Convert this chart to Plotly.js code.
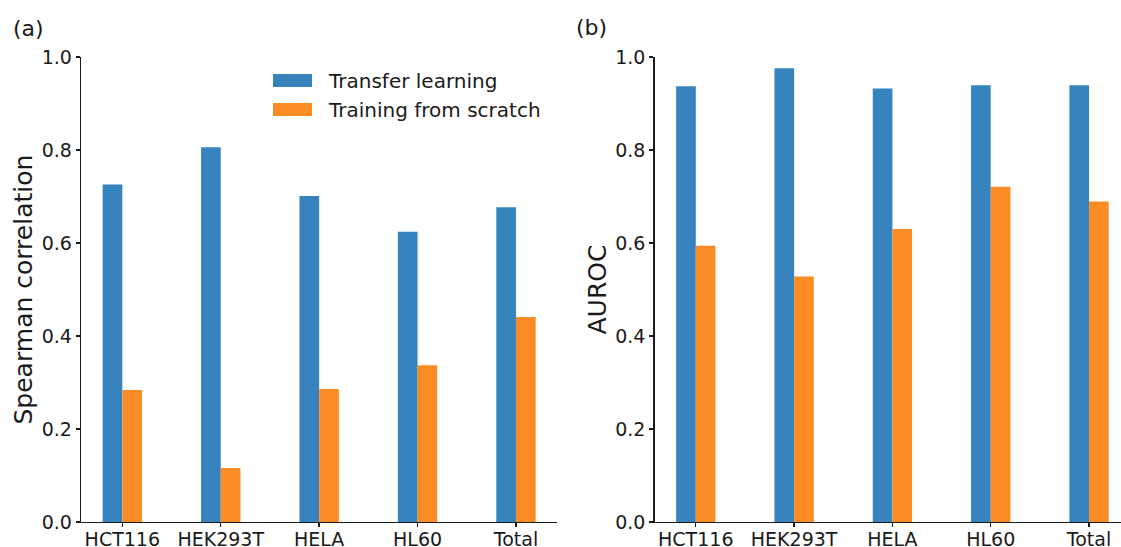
<!DOCTYPE html>
<html>
<head>
<meta charset="utf-8">
<script src="https://cdn.plot.ly/plotly-3.0.1.min.js"></script>
<style>
  html, body { margin: 0; padding: 0; background: #ffffff; }
  #chart { width: 1121px; height: 547px; }
</style>
</head>
<body>
<div id="chart"></div>
<script>
// Cell lines on the x axis of both panels
const cellLines = ['HCT116', 'HEK293T', 'HELA', 'HL60', 'Total'];

// Panel (a): Spearman correlation
const spearmanTransfer = [0.726, 0.806, 0.701, 0.624, 0.677];
const spearmanScratch  = [0.284, 0.116, 0.286, 0.337, 0.441];

// Panel (b): AUROC
const aurocTransfer = [0.937, 0.976, 0.932, 0.939, 0.939];
const aurocScratch  = [0.594, 0.528, 0.630, 0.721, 0.689];

const seriesNames = ['Transfer learning', 'Training from scratch'];
const yTicks = [0, 0.2, 0.4, 0.6, 0.8, 1.0];

const BLUE = '#3783be';
const ORANGE = '#fb8b25';
const INK = '#1a1a1a';
const FONT = 'DejaVu Sans, sans-serif';

function barTrace(y, color, offset, xa, ya, name) {
  return {
    type: 'bar',
    x: cellLines,
    y: y,
    name: name,
    width: 0.2,
    offset: offset,
    marker: { color: color, line: { width: 0 } },
    xaxis: xa,
    yaxis: ya,
    showlegend: false,
    hoverinfo: 'x+y'
  };
}

const traces = [
  barTrace(spearmanTransfer, BLUE, -0.2, 'x', 'y', seriesNames[0]),
  barTrace(spearmanScratch, ORANGE, 0, 'x', 'y', seriesNames[1]),
  barTrace(aurocTransfer, BLUE, -0.2, 'x2', 'y2', seriesNames[0]),
  barTrace(aurocScratch, ORANGE, 0, 'x2', 'y2', seriesNames[1])
];

const W = 1121, H = 547;
const mT = 57, mB = 25;
const plotH = H - mT - mB;
// pixel helpers for paper coordinates
const px = v => v / W;
const py = v => (H - mB - v) / plotH;

function xAxis(domain, range, anchor) {
  return {
    type: 'category',
    categoryorder: 'array',
    categoryarray: cellLines,
    anchor: anchor,
    domain: domain,
    range: range,
    showline: true,
    linecolor: INK,
    linewidth: 1.3,
    mirror: false,
    ticks: 'outside',
    ticklen: 4,
    tickwidth: 1.3,
    tickcolor: INK,
    ticklabelstandoff: -4,
    showgrid: false,
    zeroline: false,
    tickfont: { family: FONT, size: 19, color: INK },
    fixedrange: true
  };
}

function yAxis(anchor) {
  return {
    anchor: anchor,
    range: [0, 1],
    tickvals: yTicks,
    ticktext: yTicks.map(v => v.toFixed(1)),
    showline: true,
    linecolor: INK,
    linewidth: 1.3,
    mirror: false,
    ticks: 'outside',
    ticklen: 4,
    tickwidth: 1.3,
    tickcolor: INK,
    showgrid: false,
    zeroline: false,
    tickfont: { family: FONT, size: 19, color: INK },
    fixedrange: true
  };
}

// Legend drawn as patches + labels inside panel (a)
const legendShapes = [
  { type: 'rect', xref: 'paper', yref: 'paper',
    x0: px(273), x1: px(312), y0: py(87), y1: py(74),
    fillcolor: BLUE, line: { width: 0 } },
  { type: 'rect', xref: 'paper', yref: 'paper',
    x0: px(273), x1: px(312), y0: py(116), y1: py(103),
    fillcolor: ORANGE, line: { width: 0 } }
];

const legendLabels = [
  { text: seriesNames[0], x: px(326), y: py(80.5) },
  { text: seriesNames[1], x: px(326), y: py(109.5) }
].map(a => Object.assign(a, {
  xref: 'paper', yref: 'paper', xanchor: 'left', yanchor: 'middle',
  showarrow: false, font: { family: FONT, size: 20, color: INK }
}));

const axisTitles = [
  { text: 'Spearman correlation', x: px(23), y: 0.5 },
  { text: 'AUROC', x: px(597), y: 0.5 }
].map(a => Object.assign(a, {
  xref: 'paper', yref: 'paper', xanchor: 'center', yanchor: 'middle',
  textangle: -90, showarrow: false, font: { family: FONT, size: 25, color: INK }
}));

const panelLabels = [
  { text: '(a)', x: px(28), y: py(28) },
  { text: '(b)', x: px(591), y: py(27) }
].map(a => Object.assign(a, {
  xref: 'paper', yref: 'paper', xanchor: 'center', yanchor: 'middle',
  showarrow: false, font: { family: FONT, size: 22, color: INK }
}));

const layout = {
  width: W,
  height: H,
  margin: { l: 0, r: 0, t: mT, b: mB, pad: 0 },
  paper_bgcolor: '#ffffff',
  plot_bgcolor: '#ffffff',
  barmode: 'overlay',
  showlegend: false,
  xaxis: xAxis([px(81), px(557.3)], [-0.42, 4.42], 'y'),
  yaxis: yAxis('x'),
  xaxis2: xAxis([px(654.5), 1], [-0.42, 4.325], 'y2'),
  yaxis2: yAxis('x2'),
  shapes: legendShapes,
  annotations: [].concat(legendLabels, axisTitles, panelLabels),
  font: { family: FONT, color: INK }
};

Plotly.newPlot('chart', traces, layout, { displayModeBar: false, staticPlot: true });
</script>
</body>
</html>
